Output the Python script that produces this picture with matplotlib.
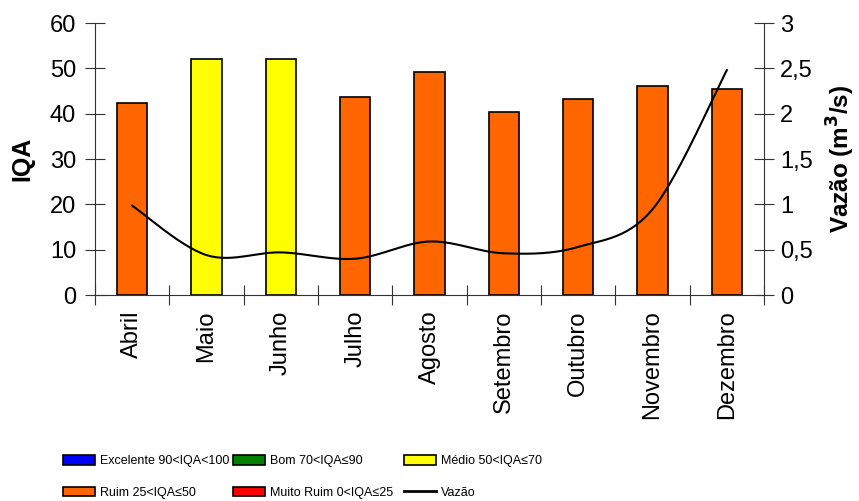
import numpy as np
import matplotlib.pyplot as plt
from matplotlib.patches import Patch
from matplotlib.lines import Line2D

plt.rcParams['font.family'] = ['Liberation Sans', 'DejaVu Sans']

meses = ['Abril', 'Maio', 'Junho', 'Julho', 'Agosto', 'Setembro', 'Outubro', 'Novembro', 'Dezembro']
iqa = [42.4, 52.0, 52.0, 43.7, 49.2, 40.4, 43.3, 46.2, 45.4]
vazao = [0.985, 0.44, 0.47, 0.40, 0.59, 0.46, 0.53, 0.945, 2.48]

# faixas de qualidade
faixas = ['Excelente 90<IQA<100', 'Bom 70<IQA≤90', 'Médio 50<IQA≤70', 'Ruim 25<IQA≤50', 'Muito Ruim 0<IQA≤25']
cores = ['#0000FF', '#008000', '#FFFF00', '#FF6600', '#FF0000']


def cor_iqa(v):
    if v > 90:
        return cores[0]
    if v > 70:
        return cores[1]
    if v > 50:
        return cores[2]
    if v > 25:
        return cores[3]
    return cores[4]


def suavizar(y, n=30):
    # linha suavizada estilo Excel (bezier tipo catmull-rom)
    y = np.asarray(y, float)
    x = np.arange(len(y), dtype=float)
    p = np.column_stack([x, y])
    pts = []
    for i in range(len(p) - 1):
        p0 = p[max(i - 1, 0)]
        p1 = p[i]
        p2 = p[i + 1]
        p3 = p[min(i + 2, len(p) - 1)]
        b1 = p1 + (p2 - p0) / 6
        b2 = p2 - (p3 - p1) / 6
        t = np.linspace(0, 1, n)[:, None]
        seg = (1 - t) ** 3 * p1 + 3 * (1 - t) ** 2 * t * b1 + 3 * (1 - t) * t ** 2 * b2 + t ** 3 * p2
        pts.append(seg if i == 0 else seg[1:])
    pts = np.vstack(pts)
    return pts[:, 0], pts[:, 1]


fig = plt.figure(figsize=(8.59, 5.01), dpi=100)
ax = fig.add_axes([95 / 859, 1 - 295 / 501, (764 - 95) / 859, (295 - 23) / 501])

x = np.arange(len(meses))
ax.bar(x, iqa, width=0.41, color=[cor_iqa(v) for v in iqa], edgecolor='black', linewidth=1.2, zorder=2)

ax.set_xlim(-0.5, len(meses) - 0.5)
ax.set_ylim(0, 60)
ax.set_yticks(range(0, 61, 10))
ax.set_xticks(np.arange(-0.5, len(meses), 1.0))
ax.set_xticklabels([])
ax.set_xticks(x, minor=True)
ax.set_xticklabels(meses, minor=True, rotation=90, fontsize=17)
ax.tick_params(axis='x', which='minor', length=0, pad=11)
ax.tick_params(axis='x', which='major', direction='inout', length=15, color='#333333')
ax.tick_params(axis='y', direction='inout', length=15, labelsize=17, color='#333333', pad=6)
ax.set_ylabel('IQA', fontsize=18, fontweight='bold', labelpad=11)
for s in ['top', 'right']:
    ax.spines[s].set_visible(False)
for s in ['left', 'bottom']:
    ax.spines[s].set_color('#333333')

ax2 = ax.twinx()
xs, ys = suavizar(vazao)
ax2.plot(xs, ys, color='black', linewidth=1.5)
ax2.set_ylim(0, 3)
ax2.set_yticks([0, 0.5, 1, 1.5, 2, 2.5, 3])
ax2.set_yticklabels(['0', '0,5', '1', '1,5', '2', '2,5', '3'])
ax2.tick_params(axis='y', direction='inout', length=15, labelsize=17, color='#333333', pad=4)
ax2.set_ylabel('Vazão (m$^\\mathbf{3}$/s)', fontsize=17.5, fontweight='bold', labelpad=9)
for s in ['top', 'left', 'bottom']:
    ax2.spines[s].set_visible(False)
ax2.spines['right'].set_color('#333333')

# legenda: 3 colunas em posicoes fixas
hs = [Patch(facecolor=c, edgecolor='black', linewidth=1.2) for c in cores]
h_vaz = Line2D([], [], color='black', linewidth=2)
colunas = [([hs[0], hs[3]], [faixas[0], faixas[3]], 63),
           ([hs[1], hs[4]], [faixas[1], faixas[4]], 233),
           ([hs[2], h_vaz], [faixas[2], 'Vazão'], 404)]
for hh, ll, x0 in colunas:
    leg = fig.legend(hh, ll, loc='upper left', bbox_to_anchor=(x0 / 859, 1 - 455 / 501),
                     frameon=False, prop={'size': 9.0},
                     handlelength=2.55, handleheight=0.8, handletextpad=0.4,
                     labelspacing=1.55, borderpad=0, borderaxespad=0)

fig.savefig('out.png', dpi=100)
